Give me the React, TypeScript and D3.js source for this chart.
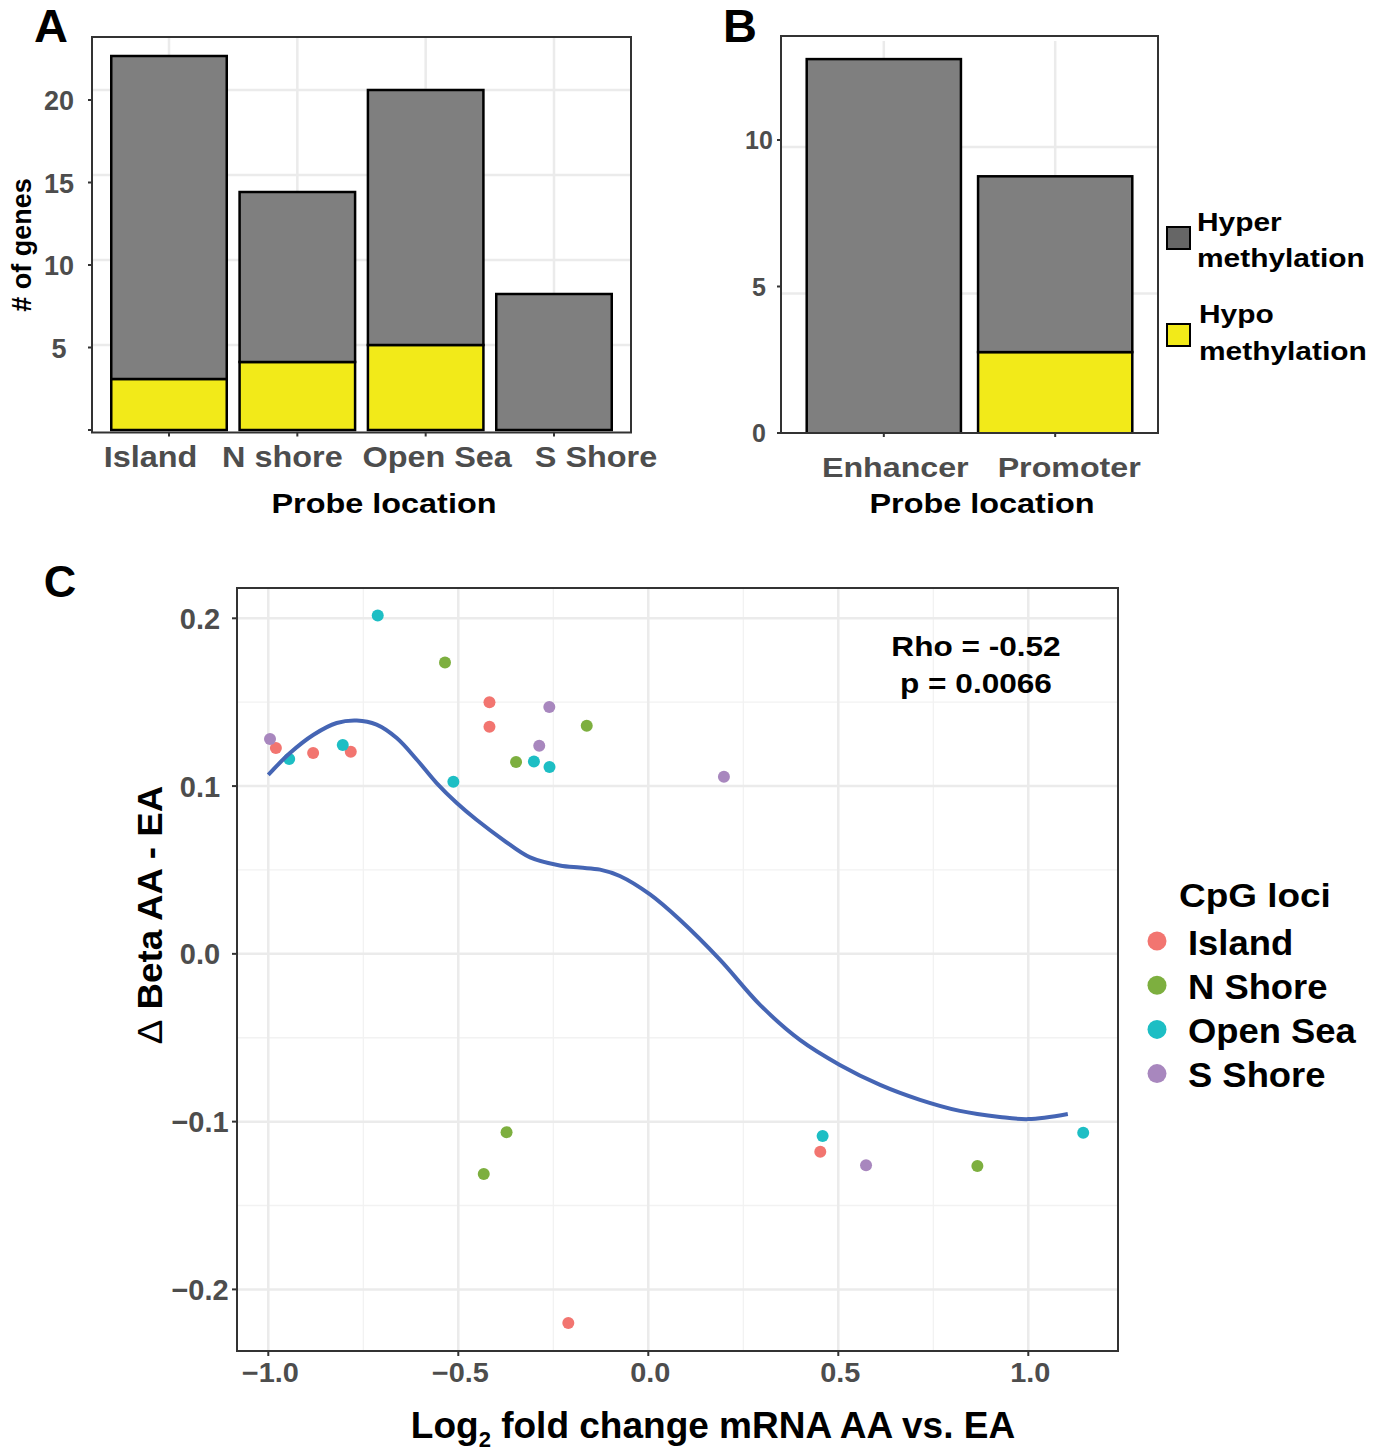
import React from "react";
import * as d3 from "d3";

// ---- data ----
const probeA = ["Island", "N shore", "Open Sea", "S Shore"];
const hypoA = [3, 4, 5, 0];
const hyperA = [19, 10, 15, 8];

const probeB = ["Enhancer", "Promoter"];
const hypoB = [0, 3];
const hyperB = [13, 6];

const ticksA = [0, 5, 10, 15, 20];
const ticksB = [0, 5, 10];

const lociNames = ["Island", "N Shore", "Open Sea", "S Shore"];
const lociColors = ["#F27570", "#7DAF3F", "#1DBEC4", "#A887BE"];

// scatter points: log2 fold change, delta beta, loci index
const logFC = [
  -0.98, -0.882, -0.783, -0.418, -0.418, -0.2105, 0.4526,
  -0.535, -0.348, -0.162, -0.373, -0.433, 0.866,
  -0.945, -0.804, -0.712, -0.513, -0.301, -0.26, 0.4587, 1.1445,
  -0.9955, -0.2605, -0.287, 0.199, 0.573,
];
const deltaBeta = [
  0.1227, 0.1197, 0.1205, 0.1499, 0.1354, -0.22, -0.118,
  0.1737, 0.1143, 0.136, -0.1063, -0.1312, -0.1264,
  0.1161, 0.1245, 0.2016, 0.1026, 0.1147, 0.1113, -0.1085, -0.1067,
  0.128, 0.1471, 0.124, 0.1055, -0.126,
];
const lociIdx = [
  0, 0, 0, 0, 0, 0, 0,
  1, 1, 1, 1, 1, 1,
  2, 2, 2, 2, 2, 2, 2, 2,
  3, 3, 3, 3, 3,
];

// loess fit
const smoothX = [-1.0, -0.943, -0.881, -0.82, -0.767, -0.715, -0.662, -0.609, -0.557, -0.504, -0.452, -0.382, -0.311, -0.233, -0.18, -0.127, -0.075, 0.0045, 0.083, 0.189, 0.294, 0.399, 0.504, 0.61, 0.715, 0.82, 0.925, 1.0, 1.104];
const smoothY = [0.1067, 0.1197, 0.1306, 0.1376, 0.1391, 0.1366, 0.1286, 0.1157, 0.1018, 0.0899, 0.0799, 0.068, 0.0575, 0.0527, 0.0514, 0.0502, 0.0464, 0.0354, 0.0203, -0.0036, -0.0304, -0.0513, -0.0662, -0.0781, -0.087, -0.0936, -0.0972, -0.0985, -0.0954];

const xMajorC = [-1, -0.5, 0, 0.5, 1];
const xMinorC = [-0.75, -0.25, 0.25, 0.75];
const yMajorC = [-0.2, -0.1, 0, 0.1, 0.2];
const yMinorC = [-0.15, -0.05, 0.05, 0.15];

// label nudges (labels in the figure sit off the band centres)
const labelNudgeA = [-18.5, -15, 11.5, 42];
const labelNudgeB = [11.5, 14];

const GRAY = "#7f7f7f";
const YELLOW = "#f2ea19";
const TICK = "#4d4d4d";
const FONT = "'Liberation Sans', Arial, Helvetica, sans-serif";

const T = ({ x, y, sx = 1, rot = 0, anchor = "middle", size, fill = "#000", children }: any) => (
  <text
    transform={`translate(${x},${y}) rotate(${rot}) scale(${sx},1)`}
    textAnchor={anchor}
    fontSize={size}
    fontWeight="bold"
    fontFamily={FONT}
    fill={fill}
  >
    {children}
  </text>
);

const A = { l: 92, t: 37, r: 631, b: 432.5 };
const B = { l: 781, t: 36, r: 1158, b: 433 };
const C = { l: 237, t: 588, r: 1118, b: 1351 };

export default function App() {
  // panel A scales
  const xA = d3.scaleBand().domain(probeA).range([A.l, A.r]).paddingInner(0.1).paddingOuter(0.15);
  const yA = d3.scaleLinear().domain([0, 20]).range([430, 90]);
  const yALab = d3.scaleLinear().domain([0, 20]).range([430, 100]);

  // panel B scales
  const xB = d3.scaleBand().domain(probeB).range([B.l, B.r]).paddingInner(0.1).paddingOuter(0.15);
  const yB = d3.scaleLinear().domain([0, 10]).range([440, 147]);
  const yBLab = d3.scaleLinear().domain([0, 10]).range([433, 140]);

  // panel C scales
  const xC = d3.scaleLinear().domain([-1, 1]).range([268.3, 1028.3]);
  const yC = d3.scaleLinear().domain([-0.2, 0.2]).range([1289.4, 618.3]);
  const fmt = d3.format(".1f");
  const line = d3
    .line<number>()
    .x((d) => xC(d))
    .y((_, i) => yC(smoothY[i]))
    .curve(d3.curveCatmullRom.alpha(0.5));

  const stacked = (cats: string[], hypo: number[], hyper: number[], x: any, y: any) =>
    cats.map((c, i) => (
      <g key={c}>
        {hypo[i] > 0 && (
          <rect x={x(c)} y={y(hypo[i])} width={x.bandwidth()} height={y(0) - y(hypo[i])}
            fill={YELLOW} stroke="#000" strokeWidth={2.5} />
        )}
        <rect x={x(c)} y={y(hypo[i] + hyper[i])} width={x.bandwidth()}
          height={y(hypo[i]) - y(hypo[i] + hyper[i])}
          fill={GRAY} stroke="#000" strokeWidth={2.5} />
      </g>
    ));

  return (
    <svg width={1379} height={1453} style={{ position: "absolute", left: 0, top: 0, background: "#fff" }}>
      <defs>
        <clipPath id="clipB">
          <rect x={B.l} y={B.t} width={B.r - B.l} height={B.b - B.t} />
        </clipPath>
        <clipPath id="clipC">
          <rect x={C.l} y={C.t} width={C.r - C.l} height={C.b - C.t} />
        </clipPath>
      </defs>

      {/* ===== Panel A ===== */}
      <T x={51} y={42} size={47}>A</T>
      <rect x={A.l} y={A.t} width={A.r - A.l} height={A.b - A.t} fill="#fff" />
      {ticksA.filter((t) => t > 0).map((t) => (
        <line key={t} x1={A.l} x2={A.r} y1={yA(t)} y2={yA(t)} stroke="#ebebeb" strokeWidth={2.5} />
      ))}
      {probeA.map((c) => (
        <line key={c} x1={xA(c)! + xA.bandwidth() / 2} x2={xA(c)! + xA.bandwidth() / 2} y1={A.t} y2={A.b} stroke="#ebebeb" strokeWidth={2.5} />
      ))}
      {stacked(probeA, hypoA, hyperA, xA, yA)}
      <rect x={A.l} y={A.t} width={A.r - A.l} height={A.b - A.t} fill="none" stroke="#333" strokeWidth={2} />
      {ticksA.map((t) => (
        <g key={t}>
          <line x1={A.l - 4} x2={A.l} y1={yALab(t)} y2={yALab(t)} stroke="#333" strokeWidth={2} />
          {t > 0 && <T x={59} y={yALab(t) + 10} size={27} fill={TICK}>{t}</T>}
        </g>
      ))}
      {probeA.map((c, i) => (
        <g key={c}>
          <line x1={xA(c)! + xA.bandwidth() / 2} x2={xA(c)! + xA.bandwidth() / 2} y1={A.b} y2={A.b + 4} stroke="#333" strokeWidth={2} />
          <T x={xA(c)! + xA.bandwidth() / 2 + labelNudgeA[i]} y={467} size={30} sx={1.08} fill={TICK}>{c}</T>
        </g>
      ))}
      <T x={384} y={513} size={27} sx={1.2}>Probe location</T>
      <T x={31} y={245} size={27} rot={-90}># of genes</T>

      {/* ===== Panel B ===== */}
      <T x={740} y={42} size={47}>B</T>
      <rect x={B.l} y={B.t} width={B.r - B.l} height={B.b - B.t} fill="#fff" />
      {ticksB.filter((t) => t > 0).map((t) => (
        <line key={t} x1={B.l} x2={B.r} y1={yB(t)} y2={yB(t)} stroke="#ebebeb" strokeWidth={2.5} />
      ))}
      {probeB.map((c) => (
        <line key={c} x1={xB(c)! + xB.bandwidth() / 2} x2={xB(c)! + xB.bandwidth() / 2} y1={B.t + 5} y2={B.b} stroke="#ebebeb" strokeWidth={2.5} />
      ))}
      <g clipPath="url(#clipB)">{stacked(probeB, hypoB, hyperB, xB, yB)}</g>
      <rect x={B.l} y={B.t} width={B.r - B.l} height={B.b - B.t} fill="none" stroke="#333" strokeWidth={2} />
      {ticksB.map((t) => (
        <g key={t}>
          <line x1={B.l - 4} x2={B.l} y1={yBLab(t)} y2={yBLab(t)} stroke="#333" strokeWidth={2} />
          <T x={759} y={yBLab(t) + 9} size={25} fill={TICK}>{t}</T>
        </g>
      ))}
      {probeB.map((c, i) => (
        <g key={c}>
          <line x1={xB(c)! + xB.bandwidth() / 2} x2={xB(c)! + xB.bandwidth() / 2} y1={B.b} y2={B.b + 4} stroke="#333" strokeWidth={2} />
          <T x={xB(c)! + xB.bandwidth() / 2 + labelNudgeB[i]} y={477} size={28} sx={1.15} fill={TICK}>{c}</T>
        </g>
      ))}
      <T x={982} y={513} size={27} sx={1.2}>Probe location</T>
      {/* legend B */}
      <rect x={1167} y={227} width={23} height={22} fill="#666" stroke="#000" strokeWidth={2} />
      <T x={1197} y={231} size={26} sx={1.15} anchor="start">Hyper</T>
      <T x={1197} y={267} size={26} sx={1.15} anchor="start">methylation</T>
      <rect x={1167} y={324} width={23} height={22} fill={YELLOW} stroke="#000" strokeWidth={2} />
      <T x={1199} y={323} size={26} sx={1.15} anchor="start">Hypo</T>
      <T x={1199} y={360} size={26} sx={1.15} anchor="start">methylation</T>

      {/* ===== Panel C ===== */}
      <T x={60} y={597} size={45}>C</T>
      {xMinorC.map((v) => (
        <line key={"xm" + v} x1={xC(v)} x2={xC(v)} y1={C.t} y2={C.b} stroke="#f2f2f2" strokeWidth={1.3} />
      ))}
      {yMinorC.map((v) => (
        <line key={"ym" + v} x1={C.l} x2={C.r} y1={yC(v)} y2={yC(v)} stroke="#f2f2f2" strokeWidth={1.3} />
      ))}
      {xMajorC.map((v) => (
        <line key={"xM" + v} x1={xC(v)} x2={xC(v)} y1={C.t} y2={C.b} stroke="#ebebeb" strokeWidth={2.5} />
      ))}
      {yMajorC.map((v) => (
        <line key={"yM" + v} x1={C.l} x2={C.r} y1={yC(v)} y2={yC(v)} stroke="#ebebeb" strokeWidth={2.5} />
      ))}
      <g clipPath="url(#clipC)">
        {logFC.map((v, i) => (
          <circle key={i} cx={xC(v)} cy={yC(deltaBeta[i])} r={6} fill={lociColors[lociIdx[i]]} />
        ))}
        <path d={line(smoothX) || ""} fill="none" stroke="#4565b4" strokeWidth={4} />
      </g>
      <rect x={C.l} y={C.t} width={C.r - C.l} height={C.b - C.t} fill="none" stroke="#333" strokeWidth={2} />
      {yMajorC.map((v) => (
        <g key={"yt" + v}>
          <line x1={C.l - 5} x2={C.l} y1={yC(v)} y2={yC(v)} stroke="#333" strokeWidth={2} />
          <T x={200} y={yC(v) + 10.5} size={29} fill={TICK}>{fmt(v)}</T>
        </g>
      ))}
      {xMajorC.map((v) => (
        <g key={"xt" + v}>
          <line x1={xC(v)} x2={xC(v)} y1={C.b} y2={C.b + 5} stroke="#333" strokeWidth={2} />
          <T x={xC(v) + 2} y={1382} size={27} sx={1.07} fill={TICK}>{fmt(v)}</T>
        </g>
      ))}
      <T x={713} y={1438} size={37}>
        Log<tspan fontSize={22} dy={9}>2</tspan>
        <tspan dy={-9}> fold change mRNA AA vs. EA</tspan>
      </T>
      <T x={162} y={915} size={35} sx={1.05} rot={-90}>
        <tspan fontWeight="normal">Δ</tspan> Beta AA - EA
      </T>
      <T x={976} y={656} size={27} sx={1.17}>Rho = -0.52</T>
      <T x={976} y={693} size={27} sx={1.17}>p = 0.0066</T>

      {/* legend C */}
      <T x={1179} y={907} size={33} sx={1.12} anchor="start">CpG loci</T>
      {lociNames.map((n, i) => (
        <g key={n}>
          <circle cx={1157} cy={941 + i * 44.2} r={9.5} fill={lociColors[i]} />
          <T x={1188} y={955 + i * 44} size={35} sx={1.04} anchor="start">{n}</T>
        </g>
      ))}
    </svg>
  );
}
